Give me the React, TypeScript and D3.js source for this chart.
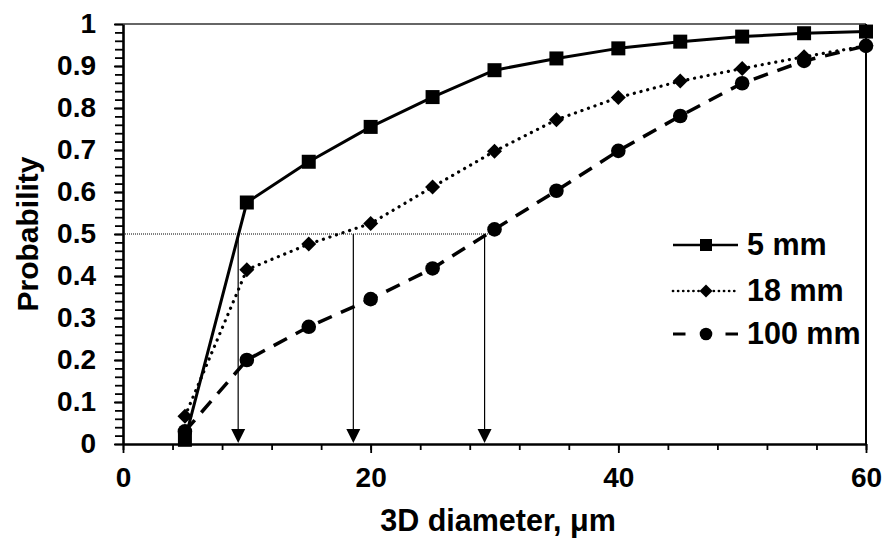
import { useEffect, useRef } from "react";
import * as d3 from "d3";

const WIDTH = 888;
const HEIGHT = 538;
const MARGIN = { top: 24, right: 22, bottom: 94, left: 123 };
const FONT = "'Liberation Sans', Arial, sans-serif";

// diameters (µm) where the curves were sampled
const diameters = [5, 10, 15, 20, 25, 30, 35, 40, 45, 50, 55, 60];
const prob5mm = [0.01, 0.575, 0.672, 0.755, 0.826, 0.89, 0.918, 0.942, 0.958, 0.97, 0.978, 0.982];
const prob18mm = [0.066, 0.415, 0.476, 0.525, 0.612, 0.697, 0.772, 0.825, 0.864, 0.894, 0.922, 0.948];
const prob100mm = [0.03, 0.2, 0.279, 0.345, 0.418, 0.511, 0.603, 0.698, 0.781, 0.859, 0.912, 0.948];

// median read-offs (arrows dropped from p = 0.5)
const medianLevel = 0.5;
const medianX = [9.3, 18.6, 29.2];
const medianLineEnd = 29.6;

const xTicks = [0, 20, 40, 60];
const yTicks = [0, 0.1, 0.2, 0.3, 0.4, 0.5, 0.6, 0.7, 0.8, 0.9, 1];

type Series = {
  name: string;
  values: number[];
  marker: "square" | "diamond" | "circle";
  dash: string;
  legendDash: string;
  width: number;
  cap: "round" | "butt";
};

const series: Series[] = [
  { name: "100 mm", values: prob100mm, marker: "circle", dash: "15 10", legendDash: "12.5 40", width: 3.5, cap: "butt" },
  { name: "18 mm", values: prob18mm, marker: "diamond", dash: "0.1 6.8", legendDash: "0.1 5", width: 3.2, cap: "round" },
  { name: "5 mm", values: prob5mm, marker: "square", dash: "none", legendDash: "none", width: 3, cap: "butt" },
];
const legendOrder = ["5 mm", "18 mm", "100 mm"];

const Marker = ({ type, x, y, s = 7 }: { type: Series["marker"]; x: number; y: number; s?: number }) => {
  if (type === "square") return <rect x={x - s} y={y - s} width={2 * s} height={2 * s} fill="#000" />;
  if (type === "diamond")
    return <path d={`M${x},${y - s - 0.5}L${x + s + 0.5},${y}L${x},${y + s + 0.5}L${x - s - 0.5},${y}Z`} fill="#000" />;
  return <circle cx={x} cy={y} r={s + 0.3} fill="#000" />;
};

export default function App() {
  const xAxisRef = useRef<SVGGElement>(null);
  const yAxisRef = useRef<SVGGElement>(null);
  const boundsWidth = WIDTH - MARGIN.left - MARGIN.right;
  const boundsHeight = HEIGHT - MARGIN.top - MARGIN.bottom;

  const xScale = d3.scaleLinear().domain([0, 60]).range([0, boundsWidth]);
  const yScale = d3.scaleLinear().domain([0, 1]).range([boundsHeight, 0]);

  useEffect(() => {
    // X axis: major ticks every 20, minor every 4
    const gx = d3.select(xAxisRef.current);
    gx.selectAll("*").remove();
    gx.append("g")
      .call(d3.axisBottom(xScale).tickValues(d3.range(0, 60.01, 4)).tickSize(6).tickFormat(() => ""))
      .call((g) => g.select(".domain").remove());
    gx.append("g")
      .call(d3.axisBottom(xScale).tickValues(xTicks).tickSize(9).tickSizeOuter(0).tickPadding(14).tickFormat(d3.format("d")))
      .call((g) => g.select(".domain").attr("stroke-width", 2.6));
    gx.selectAll("line").attr("stroke-width", 1.8);
    gx.selectAll("text")
      .attr("font-family", FONT)
      .attr("font-size", 28)
      .attr("font-weight", "bold")
      .attr("fill", "#000");

    // Y axis: major ticks every 0.1, minor every 0.02
    const gy = d3.select(yAxisRef.current);
    gy.selectAll("*").remove();
    gy.append("g")
      .call(d3.axisLeft(yScale).tickValues(d3.range(0, 1.001, 0.02)).tickSize(8).tickFormat(() => ""))
      .call((g) => g.select(".domain").remove());
    gy.append("g")
      .call(d3.axisLeft(yScale).tickValues(yTicks).tickSize(9).tickSizeOuter(0).tickPadding(18).tickFormat(d3.format("~g")))
      .call((g) => g.select(".domain").attr("stroke-width", 2.6));
    gy.selectAll("line").attr("stroke-width", 1.8);
    gy.selectAll("text")
      .attr("font-family", FONT)
      .attr("font-size", 28)
      .attr("font-weight", "bold")
      .attr("fill", "#000");
  }, [xScale, yScale]);

  const lineBuilder = d3
    .line<number>()
    .x((_, i) => xScale(diameters[i]))
    .y((d) => yScale(d));

  const legendX = 673;
  const legendY = [245, 291, 334];

  return (
    <svg width={WIDTH} height={HEIGHT} style={{ display: "block" }}>
      <style>{`body{margin:0}`}</style>
      <rect width={WIDTH} height={HEIGHT} fill="#fff" />
      <g transform={`translate(${MARGIN.left},${MARGIN.top})`}>
        {/* plot frame */}
        <line x1={0} x2={boundsWidth} y1={0} y2={0} stroke="#333" strokeWidth={1.3} />
        <line x1={boundsWidth} x2={boundsWidth} y1={0} y2={boundsHeight} stroke="#000" strokeWidth={2} />

        {/* median guide */}
        <line
          x1={0}
          x2={xScale(medianLineEnd)}
          y1={yScale(medianLevel)}
          y2={yScale(medianLevel)}
          stroke="#000"
          strokeWidth={1}
          strokeDasharray="1 1"
        />
        {medianX.map((m) => {
          const x = xScale(m);
          const tip = yScale(0) - 1;
          return (
            <g key={m}>
              <line x1={x} x2={x} y1={yScale(medianLevel)} y2={tip - 12} stroke="#000" strokeWidth={1.2} />
              <path d={`M${x - 7},${tip - 14}L${x + 7},${tip - 14}L${x},${tip}Z`} fill="#000" />
            </g>
          );
        })}

        {series.map((s) => (
          <g key={s.name}>
            <path
              d={lineBuilder(s.values) || ""}
              fill="none"
              stroke="#000"
              strokeWidth={s.width}
              strokeDasharray={s.dash}
              strokeLinecap={s.cap}
              strokeLinejoin="round"
            />
            {s.values.map((v, i) => (
              <Marker key={i} type={s.marker} x={xScale(diameters[i])} y={yScale(v)} />
            ))}
          </g>
        ))}

        <g ref={xAxisRef} transform={`translate(0,${boundsHeight})`} />
        <g ref={yAxisRef} />
      </g>

      {/* legend */}
      {legendOrder.map((name, i) => {
        const s = series.find((d) => d.name === name)!;
        const y = legendY[i];
        return (
          <g key={name}>
            <line
              x1={legendX}
              x2={legendX + 65}
              y1={y}
              y2={y}
              stroke="#000"
              strokeWidth={s.width - 0.5}
              strokeDasharray={s.legendDash}
              strokeLinecap={s.cap}
            />
            <Marker type={s.marker} x={legendX + 33} y={y} s={6} />
            <text x={legendX + 74} y={y + 10} fontFamily={FONT} fontSize={30.5} fontWeight="bold">
              {name}
            </text>
          </g>
        );
      })}

      {/* axis titles */}
      <text x={498} y={531} textAnchor="middle" fontFamily={FONT} fontSize={30.5} fontWeight="bold">
        3D diameter, μm
      </text>
      <text
        transform={`translate(38,${MARGIN.top + boundsHeight / 2}) rotate(-90)`}
        textAnchor="middle"
        fontFamily={FONT}
        fontSize={30}
        fontWeight="bold"
      >
        Probability
      </text>
    </svg>
  );
}
